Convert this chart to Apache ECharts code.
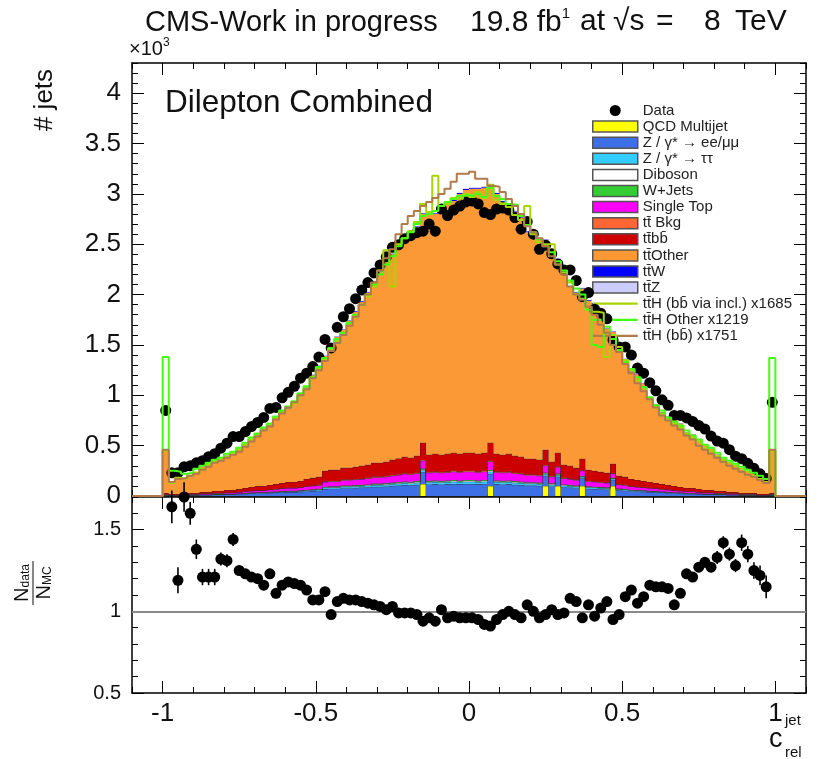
<!DOCTYPE html>
<html><head><meta charset="utf-8">
<script src="https://cdn.jsdelivr.net/npm/echarts@6/dist/echarts.min.js"></script>
<style>html,body{margin:0;padding:0;background:#fff}#c{width:817px;height:759px}</style>
</head><body><div id="c"></div>
<script>
// ---- binning / axes ----
const nBins = 100, binLow = -1.0, binWidth = 0.02;
const xRange = [-1.1, 1.1];
const xMajor = [-1, -0.5, 0, 0.5, 1];
const yTopMajor = [0, 500, 1000, 1500, 2000, 2500, 3000, 3500, 4000];
const yTopMax = 4300;
const yRatioMajor = [0.5, 1, 1.5];
const yRatioRange = [0.5, 1.7];

// ---- MC components (events per bin), bottom of stack first ----
const qcd = [0,0,0,0,0,0,0,0,0,0, 0,0,0,0,0,0,0,0,0,0, 0,0,0,0,0,0,0,0,0,0, 0,0,0,0,0,0,0,0,0,0,
  0,0,120,0,0,0,0,0,0,0, 0,0,0,100,0,0,0,0,0,0, 0,0,100,0,100,0,0,0,100,0, 0,0,0,100,0,0,0,0,0,0,
  0,0,0,0,0,0,0,0,0,0, 0,0,0,0,0,0,0,0,0,0];
const zee = [8,6,6,8,8,8,11,11,14,14, 17,17,20,22,25,28,28,31,34,36, 39,39,42,48,50,53,70,73,73,78,
  78,81,84,87,92,92,95,101,104,109, 106,112,115,115,118,115,118,120,118,120, 120,118,120,120,118,115,118,112,109,104,
  104,101,101,95,92,87,84,78,76,73, 70,67,64,62,56,53,48,45,42,39, 36,34,31,28,25,22,22,20,17,17, 14,14,11,11,8,8,8,6,6,8];
const ztt = [2,1,1,2,2,2,2,2,3,3, 3,3,4,4,5,5,5,6,6,7, 7,7,8,9,9,10,13,13,13,14, 14,15,15,16,17,17,17,18,19,20,
  19,20,21,21,21,21,21,22,21,22, 22,21,22,22,21,21,21,20,20,19, 19,18,18,17,17,16,15,14,14,13,
  13,12,12,11,10,10,9,8,8,7, 7,6,6,5,5,4,4,4,3,3, 3,3,2,2,2,2,2,1,1,2];
const diboson = [1,0,0,1,1,1,1,1,1,1, 1,1,1,2,2,2,2,2,2,3, 3,3,3,3,4,4,5,5,5,6, 6,6,6,6,7,7,7,7,8,8,
  8,8,8,8,8,8,8,9,8,9, 9,8,9,9,8,8,8,8,8,7, 7,7,7,7,7,6,6,6,5,5, 5,5,5,4,4,4,3,3,3,3,
  3,2,2,2,2,2,2,1,1,1, 1,1,1,1,1,1,1,0,0,1];
const wjets = [1,0,0,1,1,1,1,1,1,1, 1,1,1,2,2,2,2,2,2,3, 3,3,3,3,4,4,5,5,5,6, 6,6,6,6,7,7,7,7,8,8,
  8,8,8,8,8,8,8,9,8,9, 9,8,9,9,8,8,8,8,8,7, 7,7,7,7,7,6,6,6,5,5, 5,5,5,4,4,4,3,3,3,3,
  3,2,2,2,2,2,2,1,1,1, 1,1,1,1,1,1,1,0,0,1];
const singleTop = [6,4,4,6,6,6,8,8,9,9, 11,11,13,15,17,19,19,21,23,25, 27,27,28,32,34,36,47,49,49,53,
  53,55,57,59,63,63,65,68,70,74, 72,76,78,78,80,78,80,82,80,82, 82,80,82,82,80,78,80,76,74,70,
  70,68,68,65,63,59,57,53,51,49, 47,46,44,42,38,36,32,30,28,27, 25,23,21,19,17,15,15,13,11,11, 9,9,8,8,6,6,6,4,4,6];
const ttBkg = [1,0,0,1,1,1,1,1,1,1, 1,1,1,2,2,2,2,2,2,3, 3,3,3,3,4,4,5,5,5,6, 6,6,6,6,7,7,7,7,8,8,
  8,8,8,8,8,8,8,9,8,9, 9,8,9,9,8,8,8,8,8,7, 7,7,7,7,7,6,6,6,5,5, 5,5,5,4,4,4,3,3,3,3,
  3,2,2,2,2,2,2,1,1,1, 1,1,1,1,1,1,1,0,0,1];
const ttbb = [11,9,9,11,11,11,16,16,21,21, 26,26,30,33,37,42,42,46,51,53, 58,58,63,72,75,79,105,110,110,117,
  117,121,126,130,137,137,142,152,156,163, 159,168,172,172,177,172,177,179,177,179, 179,177,179,179,177,172,177,168,163,156,
  156,152,152,142,137,130,126,117,114,110, 105,100,95,93,84,79,72,68,63,58, 53,51,46,42,37,33,33,30,26,26, 21,21,16,16,11,11,11,9,9,11];
const ttOther = [430,120,170,140,160,210,250,280,300,310, 340,350,400,440,480,510,570,600,670,710,
  730,790,860,910,1020,1100,1140,1240,1320,1370, 1460,1540,1630,1710,1800,1900,2010,2040,2150,2190,
  2230,2270,2270,2400,2380,2410,2480,2500,2580,2610, 2620,2630,2630,2540,2580,2510,2420,2420,2370,2250,
  2230,2190,2080,2040,1920,1960,1780,1740,1690,1680, 1660,1540,1430,1310,1310,1170,1070,1050,970,830,
  780,710,680,670,630,550,530,480,450,410, 360,320,300,270,230,210,190,160,130,420];
const ttW = [1,0,1,1,1,1,1,1,1,1, 1,1,1,2,2,2,2,2,2,3, 3,3,3,3,4,4,4,5,5,5, 5,6,6,6,6,7,7,7,8,8,
  8,8,8,9,8,9,9,9,9,9, 9,9,9,9,9,9,9,9,8,8, 8,8,8,7,7,7,6,6,6,6, 6,5,5,5,5,4,4,4,3,3,
  3,3,2,2,2,2,2,2,2,1, 1,1,1,1,1,1,1,1,0,1];
const ttZ = [1,0,0,0,0,0,1,1,1,1, 1,1,1,1,1,1,1,1,2,2, 2,2,2,2,2,3,3,3,3,3, 3,4,4,4,4,4,5,5,5,5,
  5,5,6,6,6,6,6,6,6,6, 6,6,6,6,6,6,6,6,6,5, 5,5,5,5,5,5,4,4,4,4, 4,4,3,3,3,3,2,2,2,2,
  2,2,2,2,1,1,1,1,1,1, 1,1,1,1,1,0,0,0,0,1];

// ---- data (events per bin) ----
const dataCounts = [850,230,230,290,300,330,350,390,420,475, 525,590,590,640,690,730,780,870,880,975,
  1030,1090,1170,1220,1285,1380,1555,1470,1675,1780, 1860,1960,2045,2120,2215,2295,2375,2470,2495,2555,
  2585,2615,2630,2700,2630,2850,2785,2840,2880,2920, 2930,2900,2815,2795,2850,2860,2840,2765,2650,2725,
  2600,2450,2490,2405,2305,2245,2245,2140,1980,2020, 1855,1815,1760,1550,1480,1480,1400,1270,1220,1125,
  1045,955,900,800,800,775,740,700,665,595, 545,525,460,395,370,325,275,220,175,930];

// ---- ratio panel ----
const ratio = [null,1.64,1.19,1.70,1.60,1.38,1.21,1.21,1.21,1.32, 1.31,1.44,1.25,1.23,1.21,1.20,1.16,1.23,1.11,1.16,
  1.18,1.17,1.16,1.13,1.07,1.07,1.12,0.98,1.06,1.08, 1.07,1.07,1.06,1.05,1.04,1.03,1.01,1.03,0.99,0.99,
  0.99,0.98,0.94,0.96,0.94,1.01,0.96,0.97,0.96,0.96, 0.96,0.95,0.92,0.91,0.95,0.98,1.00,0.98,0.96,1.04,
  1.00,0.96,0.98,1.01,0.98,0.99,1.08,1.06,0.96,1.04, 0.97,1.02,1.06,0.95,0.98,1.09,1.13,1.05,1.09,1.16,
  1.15,1.15,1.14,1.04,1.11,1.23,1.21,1.27,1.30,1.27, 1.33,1.42,1.35,1.28,1.42,1.35,1.25,1.22,1.15,null];
const ratioErr = [0,0.10,0.08,0.09,0.07,0.06,0.05,0.05,0.05,0.04, 0.04,0.04,0.03,0.03,0.03,0.03,0.03,0.03,0.03,0.03,
  0.03,0.03,0.02,0.02,0.02,0.02,0.02,0.02,0.02,0.02, 0.02,0.02,0.02,0.02,0.02,0.02,0.02,0.02,0.02,0.02,
  0.02,0.02,0.02,0.02,0.02,0.02,0.02,0.02,0.02,0.02, 0.02,0.02,0.02,0.02,0.02,0.02,0.02,0.02,0.02,0.02,
  0.02,0.02,0.02,0.02,0.02,0.02,0.02,0.02,0.02,0.02, 0.02,0.02,0.02,0.02,0.02,0.02,0.02,0.02,0.02,0.02,
  0.02,0.02,0.02,0.02,0.02,0.03,0.03,0.03,0.03,0.03, 0.04,0.04,0.04,0.04,0.05,0.05,0.05,0.06,0.07,0];

// ---- scaled ttH signal shapes (events per bin) ----
const sigBBincl = [450,130,180,170,200,230,270,310,340,370, 390,430,460,510,560,600,660,700,770,830,
  880,920,1000,1070,1170,1260,1350,1460,1540,1620, 1700,1780,1900,1980,2080,2240,2440,2080,2500,2560,
  2630,2720,2900,2820,3180,2880,2900,2960,2950,3000, 2970,3020,2960,3090,2940,2900,2870,2790,2740,2880,
  2600,2520,2500,2500,2300,2220,2120,2000,1960,1880, 1830,1820,1380,1600,1480,1350,1250,1150,1080,960,
  880,820,760,720,680,620,580,540,480,450, 400,360,330,300,270,240,200,170,140,450];
const sigOther = [1380,250,240,220,230,270,300,330,360,380, 420,440,480,530,580,620,680,720,790,850,
  890,940,1020,1090,1180,1280,1370,1470,1560,1620, 1720,1800,1900,2000,2100,2200,2300,2380,2480,2560,
  2620,2700,2780,2800,2830,2880,2920,2950,2980,2990, 2980,3000,2970,3060,2980,2950,2900,2890,2780,2690,
  2620,2550,2480,2420,2330,2240,2140,2060,2000,1850, 1500,1480,1680,1560,1450,1330,1260,1180,1080,980,
  900,850,780,740,700,650,600,560,510,480, 430,380,350,320,290,260,230,200,170,1370];
const sigBB = [460,140,170,180,200,220,260,290,330,350, 380,410,440,490,540,590,650,690,760,820,
  880,930,1000,1060,1170,1250,1340,1440,1520,1600, 1690,1780,1900,2000,2120,2240,2360,2450,2600,2700,
  2780,2830,2880,2920,2960,3000,3050,3120,3200,3200, 3220,3150,3150,3080,3070,3020,2950,2880,2800,2680,
  2620,2560,2480,2380,2300,2200,2080,2000,1950,1880, 1800,1700,1620,1500,1430,1310,1220,1120,1040,960,
  880,800,750,700,660,600,560,500,460,420, 380,340,300,270,240,210,190,160,130,460];

// ---- helpers ----
const edges = []; for (let i = 0; i <= nBins; i++) edges.push(+(binLow + i * binWidth).toFixed(4));
const centers = []; for (let i = 0; i < nBins; i++) centers.push(+(binLow + (i + 0.5) * binWidth).toFixed(4));
function range(a, b, s) { const r = []; for (let k = 0; a + k * s <= b + 1e-9; k++) r.push(+(a + k * s).toFixed(4)); return r; }
const xMinor = range(xRange[0], xRange[1], 0.1);
const yTopMinor = range(0, yTopMax, 100);
const yRatioMinor = range(yRatioRange[0], yRatioRange[1], 0.1);
function histLine(vals) { const d = [[xRange[0], 0]]; vals.forEach((v, i) => d.push([edges[i], v])); d.push([edges[nBins], 0]); d.push([xRange[1], 0]); return d; }

const FONT = 'Liberation Sans';
const stackDefs = [
  {name: 'QCD Multijet', vals: qcd, color: '#ffff00', outline: true},
  {name: 'Z / γ* → ee/μμ', vals: zee, color: '#3d6fe6', outline: true},
  {name: 'Z / γ* → ττ', vals: ztt, color: '#33ccff', outline: true},
  {name: 'Diboson', vals: diboson, color: '#ffffff', outline: true},
  {name: 'W+Jets', vals: wjets, color: '#33cc33', outline: true},
  {name: 'Single Top', vals: singleTop, color: '#ff00ff', outline: true},
  {name: 'tt̄ Bkg', vals: ttBkg, color: '#ff6633', outline: true},
  {name: 'tt̄bb̄', vals: ttbb, color: '#cc0000', outline: true},
  {name: 'tt̄Other', vals: ttOther, color: '#fa9935', outline: false},
  {name: 'tt̄W', vals: ttW, color: '#0000ff', outline: false},
  {name: 'tt̄Z', vals: ttZ, color: '#ccccff', outline: false}
];
const sigDefs = [
  {name: 'tt̄H (bb̄ via incl.) x1685', vals: sigBBincl, color: '#a8d400'},
  {name: 'tt̄H Other x1219', vals: sigOther, color: '#44ff11'},
  {name: 'tt̄H (bb̄) x1751', vals: sigBB, color: '#b07a4a'}
];

const series = [];
// stacked histograms, drawn as step polygons through the axis scales
let base = new Array(nBins).fill(0);
stackDefs.forEach(s => {
  const lower = base.slice();
  const upper = lower.map((b, i) => b + s.vals[i]);
  base = upper;
  series.push({
    type: 'custom', name: s.name, xAxisIndex: 0, yAxisIndex: 0, data: [[0, 0]], z: 2, silent: true,
    itemStyle: {color: s.color}, color: s.color,
    renderItem: function (params, api) {
      const top = [];
      for (let i = 0; i < nBins; i++) {
        top.push(api.coord([edges[i], upper[i]]));
        top.push(api.coord([edges[i + 1], upper[i]]));
      }
      const bot = [];
      for (let i = nBins - 1; i >= 0; i--) {
        bot.push(api.coord([edges[i + 1], lower[i]]));
        bot.push(api.coord([edges[i], lower[i]]));
      }
      const children = [{type: 'polygon', shape: {points: top.concat(bot)}, style: {fill: s.color, stroke: null}}];
      if (s.outline) children.push({type: 'polyline', shape: {points: top}, style: {fill: null, stroke: '#2a2a2a', lineWidth: 0.8}});
      return {type: 'group', children: children};
    }
  });
});
series.push({
  type: 'scatter', name: 'Data', xAxisIndex: 0, yAxisIndex: 0, symbol: 'circle', symbolSize: 11,
  itemStyle: {color: '#000', opacity: 1}, data: dataCounts.map((v, i) => [centers[i], v]), z: 5
});
sigDefs.forEach(s => series.push({
  type: 'line', name: s.name, xAxisIndex: 0, yAxisIndex: 0, step: 'end', symbol: 'none', showSymbol: false,
  data: histLine(s.vals), color: s.color, itemStyle: {color: s.color}, lineStyle: {color: s.color, width: 2}, z: 6, silent: true
}));
const ratioPts = []; ratio.forEach((r, i) => { if (r !== null) ratioPts.push([centers[i], r, ratioErr[i]]); });
series.push({
  type: 'custom', name: 'ratioErr', xAxisIndex: 4, yAxisIndex: 4, data: ratioPts, z: 3, silent: true,
  renderItem: function (params, api) {
    const x = api.value(0), r = api.value(1), e = api.value(2);
    const a = api.coord([x, r - e]), b = api.coord([x, r + e]);
    return {type: 'line', shape: {x1: a[0], y1: a[1], x2: b[0], y2: b[1]}, style: {stroke: '#000', lineWidth: 1.6}};
  },
  markLine: {silent: true, symbol: ['none', 'none'], label: {show: false}, data: [{yAxis: 1}],
    lineStyle: {color: '#8a8a8a', width: 2, type: 'solid'}}
});
series.push({
  type: 'scatter', name: 'ratio', xAxisIndex: 4, yAxisIndex: 4, symbol: 'circle', symbolSize: 11,
  itemStyle: {color: '#000', opacity: 1}, data: ratioPts.map(p => [p[0], p[1]]), z: 5
});

// ---- axes ----
function xAx(grid, pos, major, ticks, len, labels) {
  return {gridIndex: grid, type: 'value', position: pos, min: xRange[0], max: xRange[1],
    axisLine: {show: major, onZero: false, lineStyle: {color: '#000', width: 1.5}},
    axisTick: {show: true, inside: true, length: len, customValues: ticks, lineStyle: {color: '#000', width: 1}},
    axisLabel: labels ? {show: true, customValues: xMajor, fontSize: 26, fontFamily: FONT, color: '#111', margin: 8,
      formatter: v => String(v)} : {show: false},
    splitLine: {show: false}};
}
function yAx(grid, pos, major, ticks, len, rng, labels, labVals, fmt, fs) {
  return {gridIndex: grid, type: 'value', position: pos, min: rng[0], max: rng[1],
    axisLine: {show: major, onZero: false, lineStyle: {color: '#000', width: 1.5}},
    axisTick: {show: true, inside: true, length: len, customValues: ticks, lineStyle: {color: '#000', width: 1}},
    axisLabel: labels ? {show: true, customValues: labVals, fontSize: fs, fontFamily: FONT, color: '#111', margin: 11,
      formatter: fmt} : {show: false},
    splitLine: {show: false}};
}
const xAxes = [
  xAx(0, 'bottom', true, xMajor, 12, false), xAx(0, 'bottom', false, xMinor, 6, false),
  xAx(0, 'top', true, xMajor, 12, false), xAx(0, 'top', false, xMinor, 6, false),
  xAx(1, 'bottom', true, xMajor, 12, true), xAx(1, 'bottom', false, xMinor, 6, false),
  xAx(1, 'top', true, xMajor, 12, false), xAx(1, 'top', false, xMinor, 6, false)
];
const topRng = [0, yTopMax];
const yAxes = [
  yAx(0, 'left', true, yTopMajor, 12, topRng, true, yTopMajor, v => String(v / 1000), 26),
  yAx(0, 'left', false, yTopMinor, 6, topRng, false),
  yAx(0, 'right', true, yTopMajor, 12, topRng, false),
  yAx(0, 'right', false, yTopMinor, 6, topRng, false),
  yAx(1, 'left', true, yRatioMajor, 12, yRatioRange, true, yRatioMajor, v => String(v), 20),
  yAx(1, 'left', false, yRatioMinor, 6, yRatioRange, false),
  yAx(1, 'right', true, yRatioMajor, 12, yRatioRange, false),
  yAx(1, 'right', false, yRatioMinor, 6, yRatioRange, false)
];

// ---- legend ----
const legendData = [{name: 'Data', icon: 'circle', itemStyle: {color: '#000'}}];
stackDefs.forEach(s => legendData.push({name: s.name, icon: 'rect',
  itemStyle: {color: s.color, borderColor: '#555', borderWidth: 1.5}}));
sigDefs.forEach(s => legendData.push({name: s.name, icon: 'path://M0,0L40,0L40,2L0,2Z',
  itemStyle: {color: s.color, borderWidth: 0}}));

const TXT = '#111';
const T29 = '29px "Liberation Sans"';
const T30 = '30px "Liberation Sans"';
const option = {
  animation: false,
  textStyle: {fontFamily: FONT},
  grid: [
    {left: 132, right: 11, top: 63, height: 433},
    {left: 132, right: 11, top: 497, height: 196}
  ],
  xAxis: xAxes,
  yAxis: yAxes,
  legend: {
    left: 592, top: 103, orient: 'vertical', padding: 0, itemWidth: 45, itemHeight: 11, itemGap: 1.1,
    selectedMode: false, data: legendData,
    textStyle: {fontSize: 15, fontFamily: FONT, color: '#222'}
  },
  graphic: [
    {type: 'text', x: 145, y: 8, style: {text: 'CMS-Work in progress', font: T29, fill: TXT}},
    {type: 'text', x: 470, y: 6, style: {text: '{a|19.8 fb}{s|1}',
      rich: {a: {fontSize: 30, fontFamily: FONT, fill: TXT, lineHeight: 33}, s: {fontSize: 15, fontFamily: FONT, fill: TXT, verticalAlign: 'top', lineHeight: 33}}}},
    {type: 'text', x: 580, y: 7, style: {text: 'at', font: T30, fill: TXT}},
    {type: 'text', x: 613, y: 7, style: {text: '√s', font: T30, fill: TXT}},
    {type: 'text', x: 656, y: 7, style: {text: '=', font: T30, fill: TXT}},
    {type: 'text', x: 704, y: 7, style: {text: '8', font: T30, fill: TXT}},
    {type: 'text', x: 735, y: 7, style: {text: 'TeV', font: T30, fill: TXT}},
    {type: 'text', x: 129, y: 37, style: {text: '{a|×10}{s|3}',
      rich: {a: {fontSize: 20, fontFamily: FONT, fill: TXT, lineHeight: 24}, s: {fontSize: 12, fontFamily: FONT, fill: TXT, verticalAlign: 'top', lineHeight: 24}}}},
    {type: 'text', x: 45, y: 100, rotation: Math.PI / 2, style: {text: '# jets', font: '26px "Liberation Sans"', fill: TXT, align: 'center', verticalAlign: 'middle'}},
    {type: 'text', x: 165, y: 87, style: {text: 'Dilepton Combined', font: '31.5px "Liberation Sans"', fill: TXT}},
    {type: 'group', x: 33, y: 583, rotation: Math.PI / 2, children: [
      {type: 'text', x: 0, y: -1, style: {text: '{n|N}{d|data}', align: 'center', verticalAlign: 'bottom',
        rich: {n: {fontSize: 20, fontFamily: FONT, fill: TXT, lineHeight: 20}, d: {fontSize: 12, fontFamily: FONT, fill: TXT, verticalAlign: 'bottom', lineHeight: 20}}}},
      {type: 'line', shape: {x1: -22, y1: 0, x2: 22, y2: 0}, style: {stroke: TXT, lineWidth: 1}},
      {type: 'text', x: 0, y: 1, style: {text: '{n|N}{d|MC}', align: 'center', verticalAlign: 'top',
        rich: {n: {fontSize: 20, fontFamily: FONT, fill: TXT, lineHeight: 20}, d: {fontSize: 12, fontFamily: FONT, fill: TXT, verticalAlign: 'bottom', lineHeight: 20}}}}
    ]},
    {type: 'text', x: 769, y: 726, style: {text: 'c', font: '27px "Liberation Sans"', fill: TXT}},
    {type: 'text', x: 785, y: 713, style: {text: 'jet', font: '15px "Liberation Sans"', fill: TXT}},
    {type: 'text', x: 785, y: 745, style: {text: 'rel', font: '15px "Liberation Sans"', fill: TXT}}
  ],
  series: series
};
const chart = echarts.init(document.getElementById('c'), null, {renderer: 'canvas'});
chart.setOption(option);
</script>
</body></html>
